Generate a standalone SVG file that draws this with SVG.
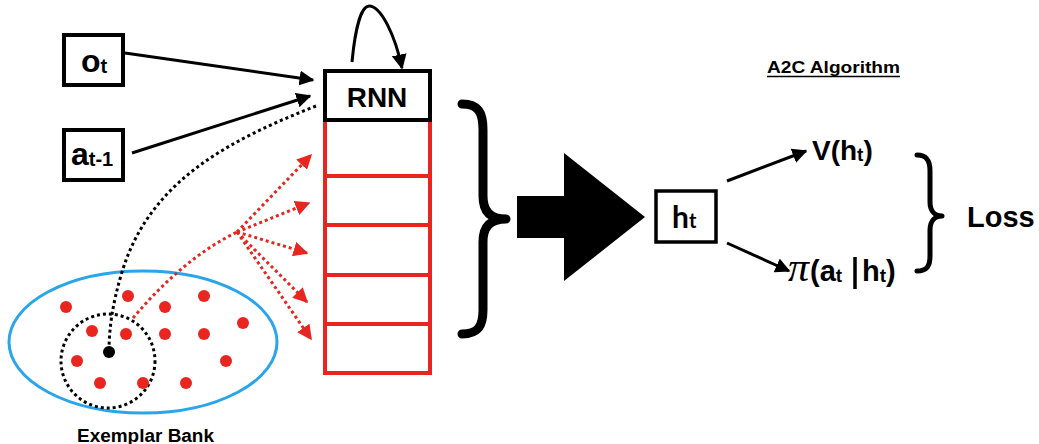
<svg xmlns="http://www.w3.org/2000/svg" width="1039" height="444" viewBox="0 0 1039 444">
<style>
.box{fill:#fff;stroke:#000;stroke-width:4}
.cell{fill:#fff;stroke:#e8261f;stroke-width:4}
.t{font-family:"Liberation Sans",Arial,sans-serif;font-weight:bold;fill:#000}
.ln{fill:none;stroke:#000;stroke-width:3}
.bdot{fill:none;stroke:#000;stroke-width:3;stroke-dasharray:3 3}
.rdot{fill:none;stroke:#e8261f;stroke-width:3;stroke-dasharray:3 3}
.ex{fill:#e8261f}
.brace{fill:none;stroke:#000;stroke-linecap:round;stroke-linejoin:round}
</style>
<defs>
<marker id="ab" viewBox="0 0 10 10" refX="9" refY="5" markerWidth="5" markerHeight="5" markerUnits="strokeWidth" orient="auto"><path d="M0,0 L10,5 L0,10 z" fill="#000"/></marker>
<marker id="ar" viewBox="0 0 10 10" refX="9" refY="5" markerWidth="5" markerHeight="5" markerUnits="strokeWidth" orient="auto"><path d="M0,0 L10,5 L0,10 z" fill="#e8261f"/></marker>
</defs>

<g id="exemplar-bank">
<ellipse cx="143" cy="342" rx="134" ry="71" fill="none" stroke="#2aa5ea" stroke-width="3"/>
<circle cx="108" cy="361" r="47" fill="none" stroke="#000" stroke-width="3" stroke-dasharray="3 3"/>
<circle class="ex" cx="66" cy="307" r="6"/>
<circle class="ex" cx="128" cy="296" r="6"/>
<circle class="ex" cx="165" cy="307" r="6"/>
<circle class="ex" cx="204" cy="296" r="6"/>
<circle class="ex" cx="243" cy="323" r="6"/>
<circle class="ex" cx="92" cy="331" r="6"/>
<circle class="ex" cx="126" cy="334" r="6"/>
<circle class="ex" cx="165" cy="334" r="6"/>
<circle class="ex" cx="204" cy="334" r="6"/>
<circle class="ex" cx="77" cy="361" r="6"/>
<circle class="ex" cx="226" cy="361" r="6"/>
<circle class="ex" cx="100" cy="383" r="6"/>
<circle class="ex" cx="143" cy="383" r="6"/>
<circle class="ex" cx="186" cy="383" r="6"/>
<circle cx="109" cy="352" r="6" fill="#000"/>
<text class="t" x="77" y="442" font-size="18" textLength="137" lengthAdjust="spacingAndGlyphs">Exemplar Bank</text>
</g>

<g id="connectors">
<path class="ln" d="M125,53 L313,80" marker-end="url(#ab)"/>
<path class="ln" d="M132,153 L310,96" marker-end="url(#ab)"/>
<path class="ln" d="M352,62 C355,30 361,6 369,6 C381,6 395,35 402,68" marker-end="url(#ab)"/>
<path class="bdot" d="M316,106 C230,140 150,180 122,272 C112,305 109,330 109,352"/>
<path class="rdot" d="M133,318 C165,280 200,250 237,232"/>
<path class="rdot" d="M237,232 L311,155" marker-end="url(#ar)"/>
<path class="rdot" d="M237,232 L309,203" marker-end="url(#ar)"/>
<path class="rdot" d="M237,232 L307,253" marker-end="url(#ar)"/>
<path class="rdot" d="M237,232 L307,302" marker-end="url(#ar)"/>
<path class="rdot" d="M237,232 L311,339" marker-end="url(#ar)"/>
<path class="ln" d="M727,181 L806,151" marker-end="url(#ab)" stroke-width="2.5"/>
<path class="ln" d="M727,243 L789,271" marker-end="url(#ab)" stroke-width="2.5"/>
</g>

<g id="o_t">
<rect class="box" x="64" y="35" width="59" height="50"/>
<text class="t" x="81" y="72" font-size="32">o<tspan font-size="20" dy="1">t</tspan></text>
</g>

<g id="a_t-1">
<rect class="box" x="64" y="130" width="59" height="50"/>
<text class="t" x="71" y="165" font-size="32">a<tspan font-size="20" dy="1">t-1</tspan></text>
</g>

<g id="memory">
<rect class="cell" x="325" y="120" width="105" height="56"/>
<rect class="cell" x="325" y="176" width="105" height="49"/>
<rect class="cell" x="325" y="225" width="105" height="50"/>
<rect class="cell" x="325" y="275" width="105" height="49"/>
<rect class="cell" x="325" y="324" width="105" height="49"/>
</g>

<g id="rnn">
<rect class="box" x="325" y="71" width="105" height="49"/>
<text class="t" x="377" y="107" font-size="28" text-anchor="middle">RNN</text>
</g>

<g id="big-brace">
<path class="brace" stroke-width="9" d="M462,104 C478,104 483,112 483,130 L483,196 C483,211 490,219 506,219 C490,219 483,227 483,242 L483,310 C483,326 478,334 462,334"/>
</g>

<g id="big-arrow">
<path d="M517,196 L564,196 L564,153 L645,217 L564,281 L564,238 L517,238 z" fill="#000"/>
</g>

<g id="h_t">
<rect x="656" y="191" width="60" height="51" fill="#fff" stroke="#000" stroke-width="3.5"/>
<text x="672" y="228" font-family="Lato,'Open Sans',sans-serif" font-weight="bold" font-size="30" fill="#000">h<tspan font-size="20">t</tspan></text>
</g>

<g id="a2c">
<text class="t" x="767" y="73" font-size="16" textLength="133" lengthAdjust="spacingAndGlyphs">A2C Algorithm</text>
<line x1="767" y1="76.5" x2="900" y2="76.5" stroke="#000" stroke-width="1.3"/>
</g>

<g id="value">
<text class="t" x="812" y="160" font-size="28">V(h<tspan font-size="19" dy="1">t</tspan><tspan dy="-1">)</tspan></text>
</g>

<g id="policy">
<text x="788" y="281" font-family="'Liberation Serif',serif" font-style="italic" font-size="40" fill="#000" textLength="21" lengthAdjust="spacingAndGlyphs">π</text>
<text class="t" x="810" y="281" font-size="29">(a<tspan font-size="19" dy="1">t</tspan></text>
<line x1="855" y1="257" x2="855" y2="289" stroke="#000" stroke-width="3.5"/>
<text class="t" x="862" y="281" font-size="29">h<tspan font-size="19" dy="1">t</tspan><tspan dy="-1">)</tspan></text>
</g>

<g id="loss-brace">
<path class="brace" stroke-width="5" d="M917,155 C927,155 930,161 930,171 L930,202 C930,211 935,216 942,216 C935,216 930,221 930,230 L930,256 C930,266 927,271 917,271"/>
</g>

<g id="loss">
<text class="t" x="967" y="227" font-size="29">Loss</text>
</g>
</svg>
